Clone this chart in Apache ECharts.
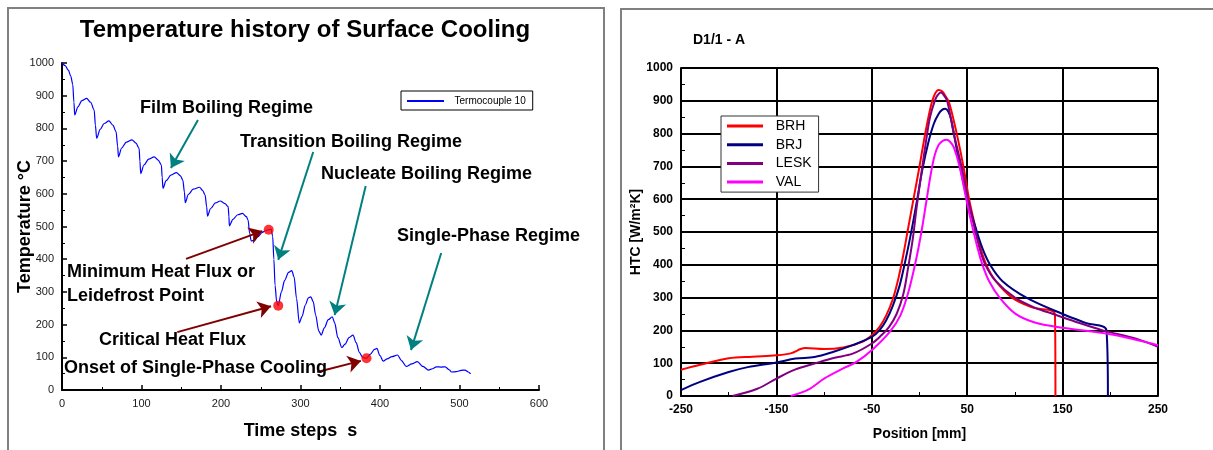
<!DOCTYPE html>
<html>
<head>
<meta charset="utf-8">
<script src="https://cdn.jsdelivr.net/npm/echarts@6/dist/echarts.min.js"></script>
<style>
  html, body { margin: 0; padding: 0; background: #fff; }
  #chart { width: 1213px; height: 450px; }
</style>
</head>
<body>
<div id="chart"></div>
<script>
// left: temperature history, [time step, °C]
const tc10 = [
  [0,1000],[4,992],[8,978],[11,960],[13.5,935],[15,880],[16,841],[20,866],[25,885],[31,892],[36,880],[40.5,856],[42,810],[43.6,770],
  [48,797],[53,815],[59,823],[64,810],[68,790],[70,745],[71,713],
  [75,740],[81,758],[88,765],[93,755],[97,739],[98,700],[99,662],
  [103,688],[109,706],[116,713],[121,703],[125,688],[126,650],[127,617],
  [131,640],[137,657],[144,665],[149,655],[152,642],[154,605],[155,573],
  [159,598],[165,614],[173,620],[177,610],[180,596],[182,560],[183,532],
  [187,555],[193,572],[199,578],[205,570],[209,561],[210,530],[210.5,502],
  [215,522],[221,536],[227,540],[232,530],[234,520],[236,480],[238,456],
  [242,458],[246,468],[252,482],[256,487],[260,490],[263,492],[265,470],[266.5,400],[268,320],[270,270],[272,258],
  [276,300],[280,335],[285,360],[289,365],[292,345],[295,280],[298.5,205],[302,225],[306,260],[310,282],[313,285],
  [316,270],[319,230],[323,180],[326,168],[330,190],[335,215],[340,224],[343,205],[347,160],[352,130],[356,140],
  [361,160],[366,168],[370,145],[374,115],[378,100],[383,97],[388,110],[393,124],[396,127],[400,105],[404,88],
  [409,95],[415,102],[422,107],[427,90],[433,72],[440,80],[447,87],[454,72],[461,61],[466,65],[471,71],[477,70],
  [482,71],[487,62],[490,55],[496,56],[502,60],[507,61],[511,55],[514,49]
];
const heatPoints = [[260,490],[272,258],[383,97]];
// arrows in data coords: [from, to]
const regimeArrows = [
  [[171,826],[137,679]],
  [[316,728],[272,398]],
  [[382,624],[343,229]],
  [[477,419],[439,122]]
];
const pointArrows = [
  [[156,401],[252,486]],
  [[145,177],[263,256]],
  [[321,55],[376,89]]
];
const notes = [
  ['Film Boiling Regime', 140, 108],
  ['Transition Boiling Regime', 240, 142],
  ['Nucleate Boiling Regime', 321, 174],
  ['Single-Phase Regime', 397, 236],
  ['Minimum Heat Flux or', 67, 272],
  ['Leidefrost Point', 67, 296],
  ['Critical Heat Flux', 99, 340],
  ['Onset of Single-Phase Cooling', 64, 368]
];

// right: HTC vs position, [mm, W/m2K]
const brh = [[-250,80],[-230,95],[-200,115],[-175,120],[-150,124],[-135,130],[-120,146],[-100,143],[-80,148],[-60,165],
  [-50,185],[-42,210],[-35,245],[-28,295],[-22,360],[-17,430],[-12,510],[-6,605],[0,700],[6,800],[12,885],[16,920],
  [20,933],[24,928],[27,915],[31,895],[39,800],[46,700],[52,600],[58,521],[64,450],[70,400],[80,350],[97,300],
  [118,270],[142,248],[142.5,0]];
const brj = [[-250,18],[-230,43],[-200,73],[-180,88],[-150,102],[-130,114],[-110,119],[-90,135],[-70,155],[-50,180],
  [-42,200],[-35,230],[-28,275],[-21,335],[-15,410],[-9,495],[-3,590],[3,690],[9,770],[15,830],[20,860],[24,873],
  [27,876],[30,868],[33,845],[36,800],[42.4,700],[50,600],[58,521],[66,450],[74,400],[87,350],[112,300],[150,250],
  [175,222],[196,200],[197.5,0]];
const lesk = [[-196,0],[-170,22],[-150,53],[-130,81],[-110,99],[-90,116],[-70,129],[-50,160],[-40,185],[-32,210],
  [-24,250],[-17,310],[-12,390],[-7,480],[-3,575],[2,680],[7,780],[11,850],[16,900],[19,917],[22.5,925],[26,915],
  [29,900],[36,800],[44,700],[51,600],[57,521],[63,450],[69,400],[80,350],[100,300],[122,268],[140,250],[162,228],
  [192,200],[227,175],[250,150]];
const val = [[-135,0],[-115,22],[-100,53],[-80,84],[-66,104],[-48,145],[-31,196],[-20,246],[-12,313],[-4,410],
  [2,500],[7,590],[12,680],[16,735],[20,765],[24,777],[28.5,781],[32,775],[36,758],[42,700],[49,600],[55,521],
  [61,450],[66,400],[73,350],[84,300],[100,252],[120,225],[150,208],[200,188],[250,155]];
const htcNames = ['BRH', 'BRJ', 'LESK', 'VAL'];
const htcColors = ['#ff0000', '#000080', '#800080', '#ff00ff'];

const FONT = "'Liberation Sans', Arial, sans-serif";
const chart = echarts.init(document.getElementById('chart'));

function arrowData(list, color) {
  return list.map(a => [
    { coord: a[0], symbol: 'none', lineStyle: { color: color, width: 2, type: 'solid' } },
    { coord: a[1], symbol: 'arrow', symbolSize: 13, itemStyle: { color: color }, lineStyle: { color: color, width: 2, type: 'solid' } }
  ]);
}

const plain = v => String(v);

const leftAxis = {
  axisLine: { onZero: false, lineStyle: { color: '#000', width: 2 } },
  axisTick: { inside: true, length: 5, lineStyle: { color: '#000', width: 1.5 } },
  minorTick: { show: true, splitNumber: 2, length: 3, lineStyle: { color: '#000', width: 1 } },
  axisLabel: { color: '#1a1a1a', fontSize: 11, fontFamily: FONT, formatter: plain },
  splitLine: { show: false },
  nameLocation: 'middle',
  nameMoveOverlap: false,
  nameTextStyle: { color: '#000', fontSize: 18, fontWeight: 'bold', fontFamily: FONT }
};
const rightAxis = {
  axisLine: { onZero: false, lineStyle: { color: '#000', width: 2 } },
  axisTick: { inside: true, length: 4, lineStyle: { color: '#000', width: 1 } },
  minorTick: { show: true, splitNumber: 2, length: 4, lineStyle: { color: '#000', width: 1 } },
  axisLabel: { color: '#000', fontSize: 12, fontWeight: 'bold', fontFamily: FONT, margin: 8, formatter: plain },
  splitLine: { show: true, lineStyle: { color: '#000', width: 2 } },
  nameLocation: 'middle',
  nameMoveOverlap: false,
  nameTextStyle: { color: '#000', fontSize: 14, fontWeight: 'bold', fontFamily: FONT }
};

const graphics = [
  { type: 'rect', shape: { x: 8, y: 8, width: 596, height: 480 }, style: { fill: 'none', stroke: '#808080', lineWidth: 2 } },
  { type: 'rect', shape: { x: 621, y: 9, width: 640, height: 480 }, style: { fill: 'none', stroke: '#808080', lineWidth: 2 } },
  { type: 'text', x: 305, y: 30, style: { text: 'Temperature history of Surface Cooling', fill: '#000',
      fontSize: 24, fontWeight: 'bold', fontFamily: FONT, align: 'center', verticalAlign: 'middle' } },
  { type: 'text', x: 693, y: 40, style: { text: 'D1/1 - A', fill: '#000',
      fontSize: 14, fontWeight: 'bold', fontFamily: FONT, verticalAlign: 'middle' } }
].concat(notes.map(n => ({
  type: 'text', x: n[1], y: n[2], z: 10,
  style: { text: n[0], fill: '#000', fontSize: 18, fontWeight: 'bold', fontFamily: FONT, verticalAlign: 'middle' }
})));

const option = {
  animation: false,
  backgroundColor: '#fff',
  grid: [
    { left: 62, top: 63, width: 477, height: 327 },
    { left: 681, top: 68, width: 477, height: 328 }
  ],
  xAxis: [
    Object.assign({}, leftAxis, { gridIndex: 0, type: 'value', min: 0, max: 600, interval: 100,
      name: 'Time steps  s', nameGap: 32 }),
    Object.assign({}, rightAxis, { gridIndex: 1, type: 'value', min: -250, max: 250, interval: 100,
      name: 'Position [mm]', nameGap: 31 })
  ],
  yAxis: [
    Object.assign({}, leftAxis, { gridIndex: 0, type: 'value', min: 0, max: 1000, interval: 100,
      name: 'Temperature °C', nameGap: 28 }),
    Object.assign({}, rightAxis, { gridIndex: 1, type: 'value', min: 0, max: 1000, interval: 100,
      name: 'HTC [W/m²K]', nameGap: 38 })
  ],
  legend: [
    {
      data: ['Termocouple 10'], left: 401, top: 91, orient: 'horizontal',
      icon: 'path://M0,0L37,0L37,2L0,2Z',
      backgroundColor: '#fff', z: 20,
      borderColor: '#000', borderWidth: 1, padding: [5, 7, 4, 6],
      itemWidth: 37, itemHeight: 10,
      formatter: name => '  ' + name,
      textStyle: { color: '#000', fontSize: 10, fontFamily: FONT }
    },
    {
      data: htcNames, left: 721, top: 116, orient: 'vertical',
      icon: 'path://M0,0L36,0L36,3L0,3Z',
      backgroundColor: '#fff', z: 20,
      borderColor: '#333', borderWidth: 1, padding: [3, 7, 3, 6],
      itemWidth: 36, itemHeight: 14, itemGap: 4.7,
      formatter: name => '  ' + name,
      textStyle: { color: '#000', fontSize: 14, fontFamily: FONT }
    }
  ],
  graphic: graphics,
  series: [
    {
      name: 'Termocouple 10', type: 'line', xAxisIndex: 0, yAxisIndex: 0,
      data: tc10, symbol: 'none', smooth: 0.3, smoothMonotone: 'x',
      lineStyle: { color: '#0000ff', width: 1.2 }, itemStyle: { color: '#0000ff' },
      markLine: {
        silent: true, animation: false, symbol: ['none', 'arrow'], symbolSize: 13,
        label: { show: false },
        data: arrowData(regimeArrows, '#008080').concat(arrowData(pointArrows, '#800000'))
      }
    },
    {
      name: 'points', type: 'scatter', xAxisIndex: 0, yAxisIndex: 0, z: 5,
      data: heatPoints, symbolSize: 10, itemStyle: { color: '#ff0000' }
    }
  ].concat([brh, brj, lesk, val].map((d, i) => ({
    name: htcNames[i], type: 'line', xAxisIndex: 1, yAxisIndex: 1,
    data: d, symbol: 'none', smooth: 0.35,
    lineStyle: { color: htcColors[i], width: 2 }, itemStyle: { color: htcColors[i] }
  })))
};

chart.setOption(option);
</script>
</body>
</html>
